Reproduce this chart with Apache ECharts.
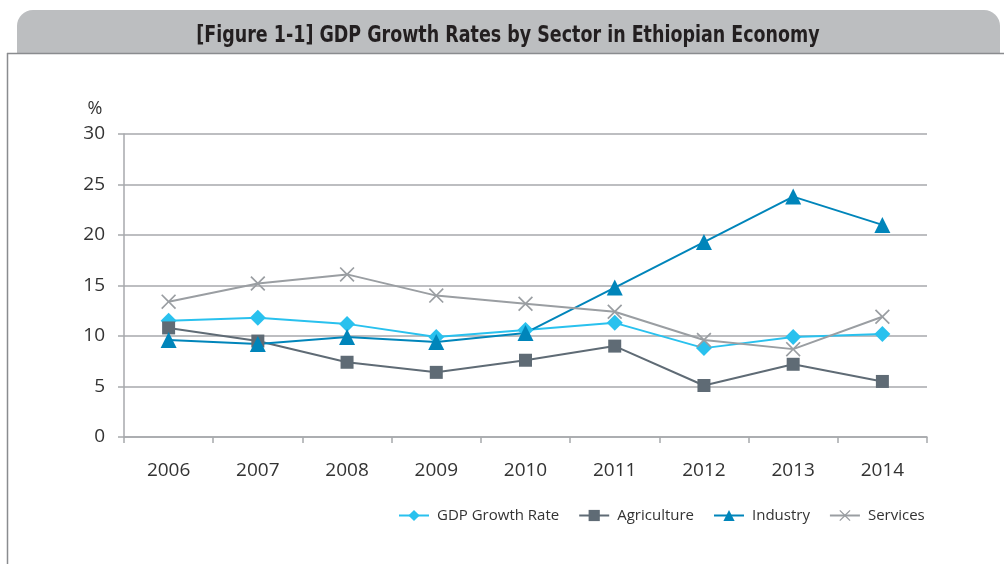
<!DOCTYPE html>
<html>
<head>
<meta charset="utf-8">
<script src="https://cdn.jsdelivr.net/npm/echarts@6/dist/echarts.min.js"></script>
<style>
  html, body { margin: 0; padding: 0; background: #ffffff; }
  #chart { width: 1004px; height: 564px; }
</style>
</head>
<body>
<div id="chart"></div>
<script>
// Annual growth rates (%) by sector, 2006-2014
const years = ['2006', '2007', '2008', '2009', '2010', '2011', '2012', '2013', '2014'];
const gdpGrowth = [11.5, 11.8, 11.2, 9.9, 10.6, 11.3, 8.8, 9.9, 10.2];
const agriculture = [10.8, 9.5, 7.4, 6.4, 7.6, 9.0, 5.1, 7.2, 5.5];
const industry = [9.6, 9.2, 9.9, 9.4, 10.3, 14.8, 19.3, 23.8, 21.0];
const services = [13.4, 15.2, 16.1, 14.0, 13.2, 12.4, 9.6, 8.7, 11.9];
const yTicks = { min: 0, max: 30, step: 5 };

const titleText = '[Figure 1-1] GDP Growth Rates by Sector in Ethiopian Economy';
const unitText = '%';

const FONT = '"Open Sans", "Noto Sans", sans-serif';
const TITLE_FONT = '"DejaVu Sans Condensed", "DejaVu Sans", sans-serif';
const GRID_GRAY = '#a7a9ac';
const TEXT = '#333333';

// thin "x" mark drawn as a filled outline
const crossPath = 'path://M0,0.8L0.8,0L5,4.2L9.2,0L10,0.8L5.8,5L10,9.2L9.2,10L5,5.8L0.8,10L0,9.2L4.2,5Z';

function lineSeries(name, data, color, symbol, size) {
  return {
    name: name,
    type: 'line',
    data: data,
    symbol: symbol,
    symbolSize: size,
    showAllSymbol: true,
    lineStyle: { color: color, width: 2 },
    itemStyle: { color: color },
    emphasis: { disabled: true },
    z: 3
  };
}

const chart = echarts.init(document.getElementById('chart'), null, { renderer: 'canvas' });

chart.setOption({
  animation: false,
  backgroundColor: '#ffffff',
  textStyle: { fontFamily: FONT },
  graphic: [
    {
      type: 'rect',
      shape: { x: 17, y: 10, width: 983, height: 43, r: [16, 16, 0, 0] },
      style: { fill: '#bcbec0' },
      z: 1
    },
    {
      type: 'line',
      shape: { x1: 7, y1: 53.5, x2: 1004, y2: 53.5 },
      style: { stroke: '#8a8c8f', lineWidth: 1.5 },
      z: 2
    },
    {
      type: 'line',
      shape: { x1: 7.5, y1: 53, x2: 7.5, y2: 564 },
      style: { stroke: '#8a8c8f', lineWidth: 1.5 },
      z: 2
    },
    {
      type: 'text',
      x: 508,
      y: 36,
      scaleX: 0.845,
      style: {
        text: titleText,
        fill: '#231f20',
        font: 'bold 23px ' + TITLE_FONT,
        textAlign: 'center',
        textVerticalAlign: 'middle'
      },
      z: 3
    },
    {
      type: 'text',
      x: 95,
      y: 109,
      style: {
        text: unitText,
        fill: TEXT,
        font: '18px ' + FONT,
        textAlign: 'center',
        textVerticalAlign: 'middle'
      },
      z: 3
    }
  ],
  grid: { left: 124, right: 77, top: 134, bottom: 127 },
  legend: {
    left: 393,
    top: 503,
    itemWidth: 30,
    itemHeight: 14,
    itemGap: 19,
    textStyle: { color: TEXT, fontSize: 15, fontFamily: FONT, padding: [0, 0, 0, 3] },
    data: ['GDP Growth Rate', 'Agriculture', 'Industry', 'Services']
  },
  xAxis: {
    type: 'category',
    data: years,
    boundaryGap: true,
    axisLine: { lineStyle: { color: GRID_GRAY, width: 1.5 } },
    axisTick: { show: true, length: 6, interval: 0, lineStyle: { color: GRID_GRAY, width: 1.5 } },
    axisLabel: { color: TEXT, fontSize: 19, margin: 24, fontFamily: FONT },
    splitLine: { show: false }
  },
  yAxis: {
    type: 'value',
    min: yTicks.min,
    max: yTicks.max,
    interval: yTicks.step,
    axisLine: { show: true, lineStyle: { color: GRID_GRAY, width: 1.5 } },
    axisTick: { show: true, length: 6, lineStyle: { color: GRID_GRAY, width: 1.5 } },
    axisLabel: { color: TEXT, fontSize: 19, margin: 19, fontFamily: FONT },
    splitLine: { show: true, lineStyle: { color: GRID_GRAY, width: 1.5 } }
  },
  series: [
    lineSeries('GDP Growth Rate', gdpGrowth, '#29c1ee', 'diamond', 16),
    lineSeries('Agriculture', agriculture, '#5f6b75', 'rect', 13),
    lineSeries('Industry', industry, '#0085ba', 'triangle', 16),
    lineSeries('Services', services, '#9a9ea2', crossPath, 15)
  ]
});
</script>
</body>
</html>
